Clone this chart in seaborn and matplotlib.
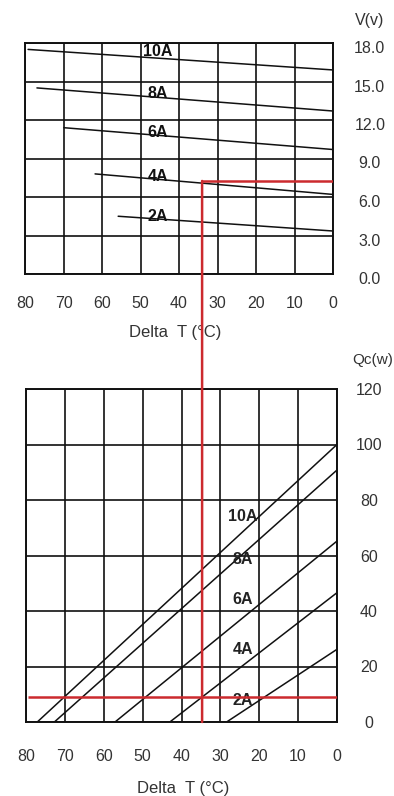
import numpy as np
import pandas as pd
import matplotlib
matplotlib.use("Agg")
import matplotlib.pyplot as plt
import seaborn as sns
from matplotlib.patches import ConnectionPatch
from matplotlib.transforms import ScaledTranslation

# ---------------- data ----------------
currents = ["10A", "8A", "6A", "4A", "2A"]

# Voltage chart (top): each current line from start point to dT = 0
v_dT_start = [79.2, 76.9, 69.9, 61.8, 55.8]
v_V_start = [17.5, 14.5, 11.4, 7.8, 4.5]
v_dT_end = [0, 0, 0, 0, 0]
v_V_end = [15.9, 12.7, 9.7, 6.2, 3.35]
v_label_dT = [45.5, 45.5, 45.5, 45.5, 45.5]
v_label_V = [17.3, 14.1, 11.0, 7.6, 4.5]

# Cooling capacity chart (bottom)
q_dT_start = [77.1, 72.7, 57.1, 43.0, 28.4]
q_Q_start = [0, 0, 0, 0, 0]
q_dT_end = [0, 0, 0, 0, 0]
q_Q_end = [100, 90.8, 65.2, 46.6, 26.2]
q_label_dT = [24.2, 24.2, 24.2, 24.2, 24.2]
q_label_Q = [73.9, 58.7, 44.3, 26.0, 7.9]

x_ticks = [80, 70, 60, 50, 40, 30, 20, 10, 0]
v_ticks = [0, 3, 6, 9, 12, 15, 18]
v_ticklabels = ["0.0", "3.0", "6.0", "9.0", "12.0", "15.0", "18.0"]
q_ticks = [0, 20, 40, 60, 80, 100, 120]
q_ticklabels = ["0", "20", "40", "60", "80", "100", "120"]

# red guide (operating point)
op_dT_top = 34.0
op_V = 7.25
op_dT_bot = 34.7
op_Q = 9.0

# ---------------- figure ----------------
sns.set_style("white")
plt.rcParams["font.family"] = ["Liberation Sans", "DejaVu Sans"]

W, H = 394, 796
fig = plt.figure(figsize=(W / 100, H / 100), dpi=100)
ax1 = fig.add_axes([25 / W, 1 - 274 / H, 308 / W, 231 / H])
ax2 = fig.add_axes([26 / W, 1 - 722 / H, 311 / W, 333 / H])

line_col = "#111111"
tick_col = "#333333"
red = "#cc2a2e"

df_v = pd.DataFrame({
    "current": currents * 2,
    "dT": v_dT_start + v_dT_end,
    "val": v_V_start + v_V_end,
})
df_q = pd.DataFrame({
    "current": currents * 2,
    "dT": q_dT_start + q_dT_end,
    "val": q_Q_start + q_Q_end,
})

pal = {c: line_col for c in currents}
sns.lineplot(data=df_v, x="dT", y="val", hue="current", palette=pal,
             estimator=None, sort=True, legend=False, lw=1.1, ax=ax1)
sns.lineplot(data=df_q, x="dT", y="val", hue="current", palette=pal,
             estimator=None, sort=True, legend=False, lw=1.1, ax=ax2)

for c, x, y in zip(currents, v_label_dT, v_label_V):
    ax1.text(x, y, c, ha="center", va="center", fontsize=11.5,
             fontweight="bold", color="#111111")
for c, x, y in zip(currents, q_label_dT, q_label_Q):
    ax2.text(x, y, c, ha="center", va="center", fontsize=11.5,
             fontweight="bold", color="#222222")

for ax, yt, ytl, ylim, ypad, xpad in [
        (ax1, v_ticks, v_ticklabels, (0, 18), 26.5, 15.5),
        (ax2, q_ticks, q_ticklabels, (0, 120), 23.0, 19.5)]:
    ax.set_xlim(80, 0)
    ax.set_ylim(*ylim)
    ax.set_xticks(x_ticks)
    ax.set_xticklabels([str(t) for t in x_ticks])
    ax.set_yticks(yt)
    ax.set_yticklabels(ytl)
    ax.yaxis.tick_right()
    ax.tick_params(axis="x", length=0, pad=xpad, labelsize=11.5, labelcolor=tick_col)
    ax.tick_params(axis="y", length=0, pad=ypad, labelsize=11.5, labelcolor=tick_col)
    for lab in ax.get_yticklabels():
        lab.set_horizontalalignment("center")
    ax.grid(True, color="#111111", lw=1.2)
    for s in ax.spines.values():
        s.set_visible(True)
        s.set_color("#111111")
        s.set_linewidth(1.4)
    ax.set_xlabel("Delta  T (°C)", fontsize=12, color=tick_col)
    ax.set_ylabel("")

ax1.xaxis.set_label_coords(150 / 308, -(333 - 274) / 231)
ax2.xaxis.set_label_coords(157 / 311, -(789 - 722) / 333)
ax1.xaxis.label.set_verticalalignment("center")
ax2.xaxis.label.set_verticalalignment("center")

# top y labels sit a little below their gridlines
for lab in ax1.get_yticklabels():
    lab.set_transform(lab.get_transform() + ScaledTranslation(0, -4 / 100, fig.dpi_scale_trans))

fig.text(370 / W, 1 - 21 / H, "V(v)", ha="center", va="center", fontsize=11.5, color=tick_col)
fig.text(373 / W, 1 - 360 / H, "Qc(w)", ha="center", va="center", fontsize=11, color=tick_col)

# red guide lines
ax1.plot([op_dT_top, 0], [op_V, op_V], color=red, lw=1.8, zorder=5, solid_capstyle="butt")
ax2.plot([79.5, 0], [op_Q, op_Q], color=red, lw=1.8, zorder=5, solid_capstyle="butt")
con = ConnectionPatch(xyA=(op_dT_top, op_V), coordsA=ax1.transData,
                      xyB=(op_dT_bot, 0), coordsB=ax2.transData,
                      color=red, lw=1.8, zorder=10)
fig.add_artist(con)

fig.savefig("out.png", dpi=100)
